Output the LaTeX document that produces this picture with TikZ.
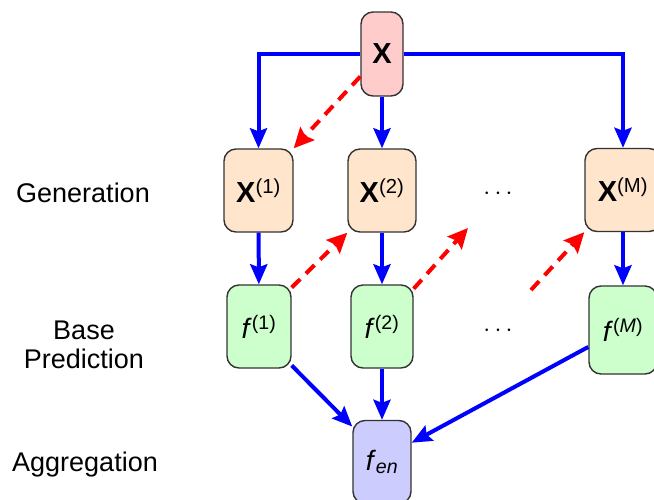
\documentclass[tikz,border=0pt]{standalone}
\usepackage{fontspec}
\setmainfont{Liberation Sans}
\usetikzlibrary{arrows.meta}

\begin{document}
\begin{tikzpicture}[x=1pt,y=-1pt,
  box/.style={draw=black!80, line width=1.4pt, rounded corners=12pt,
    inner sep=0pt, align=center},
  inbox/.style={box, fill=red!20, minimum width=42pt, minimum height=84pt,
    font=\fontsize{29}{33}\selectfont},
  genbox/.style={box, fill=orange!20, minimum height=83pt,
    font=\fontsize{29}{33}\selectfont},
  basebox/.style={box, fill=green!20, minimum height=83pt,
    font=\fontsize{28}{32}\selectfont},
  aggbox/.style={box, fill=blue!20, minimum width=58pt, minimum height=83pt,
    font=\fontsize{28}{32}\selectfont},
  stage/.style={font=\fontsize{27}{31}\selectfont, align=center},
  dotsnode/.style={font=\fontsize{28}{32}\selectfont, inner sep=0pt},
  flow/.style={draw=blue, line width=4pt,
    -{Stealth[length=20pt,width=17pt,inset=3pt]}},
  feed/.style={draw=red, line width=4pt, dash pattern=on 12pt off 8pt,
    -{Stealth[length=20pt,width=19pt,inset=3pt]}}
]
\useasboundingbox (0,0) rectangle (654,499);
\clip (0,0) rectangle (654,499);

% input data
\node[inbox] (X) at (382,54) {\textbf{X}};

% generated data sets
\node[genbox, minimum width=69pt] (X1) at (258.5,190.5) {\textbf{X}\textsuperscript{(1)}};
\node[genbox, minimum width=68pt] (X2) at (382,190.5) {\textbf{X}\textsuperscript{(2)}};
\node[genbox, minimum width=76pt] (XM) at (623,190) {\textbf{X}\textsuperscript{(M)}};
\node[dotsnode] (gdots) at (498,194) {$\cdots$};

% base predictors
\node[basebox, minimum width=64pt] (f1) at (259,326.5) {\textit{f}\textsuperscript{(1)}};
\node[basebox, minimum width=62pt] (f2) at (382,326.5) {\textit{f}\textsuperscript{(2)}};
\node[basebox, minimum width=68pt, minimum height=88pt] (fM) at (623,330) {\textit{f}\textsuperscript{(\textit{M})}};
\node[dotsnode] (bdots) at (498,331) {$\cdots$};

% ensemble
\node[aggbox] (fen) at (382,462) {\textit{f}\textsubscript{\textit{en}}};

% stage labels
\node[stage] (lgen) at (83,193) {Generation};
\node[stage] (lbase) at (84,345) {Base\\[-2pt]Prediction};
\node[stage] (lagg) at (85,465) {Aggregation};

% free ends of the open dashed arrows
\coordinate (gap2) at (468,228);
\coordinate (gapM) at (531,290);

% data flow
\draw[flow] (X.west) -| (X1.north);
\draw[flow] (X) -- (X2);
\draw[flow] (X.east) -| (XM.north);
\draw[flow] (X1) -- (f1);
\draw[flow] (X2) -- (f2);
\draw[flow] (XM) -- (fM);
\draw[flow] (f1.-50) -- (fen.130);
\draw[flow] (f2) -- (fen);
\draw[flow] (fM.206) -- (fen.33);

% sequential dependence
\draw[feed] (X.226) -- (X1.north east);
\draw[feed] (f1.50) -- (X2.south west);
\draw[feed] (f2.50) -- (gap2);
\draw[feed] (gapM) -- (XM.south west);
\end{tikzpicture}
\end{document}
